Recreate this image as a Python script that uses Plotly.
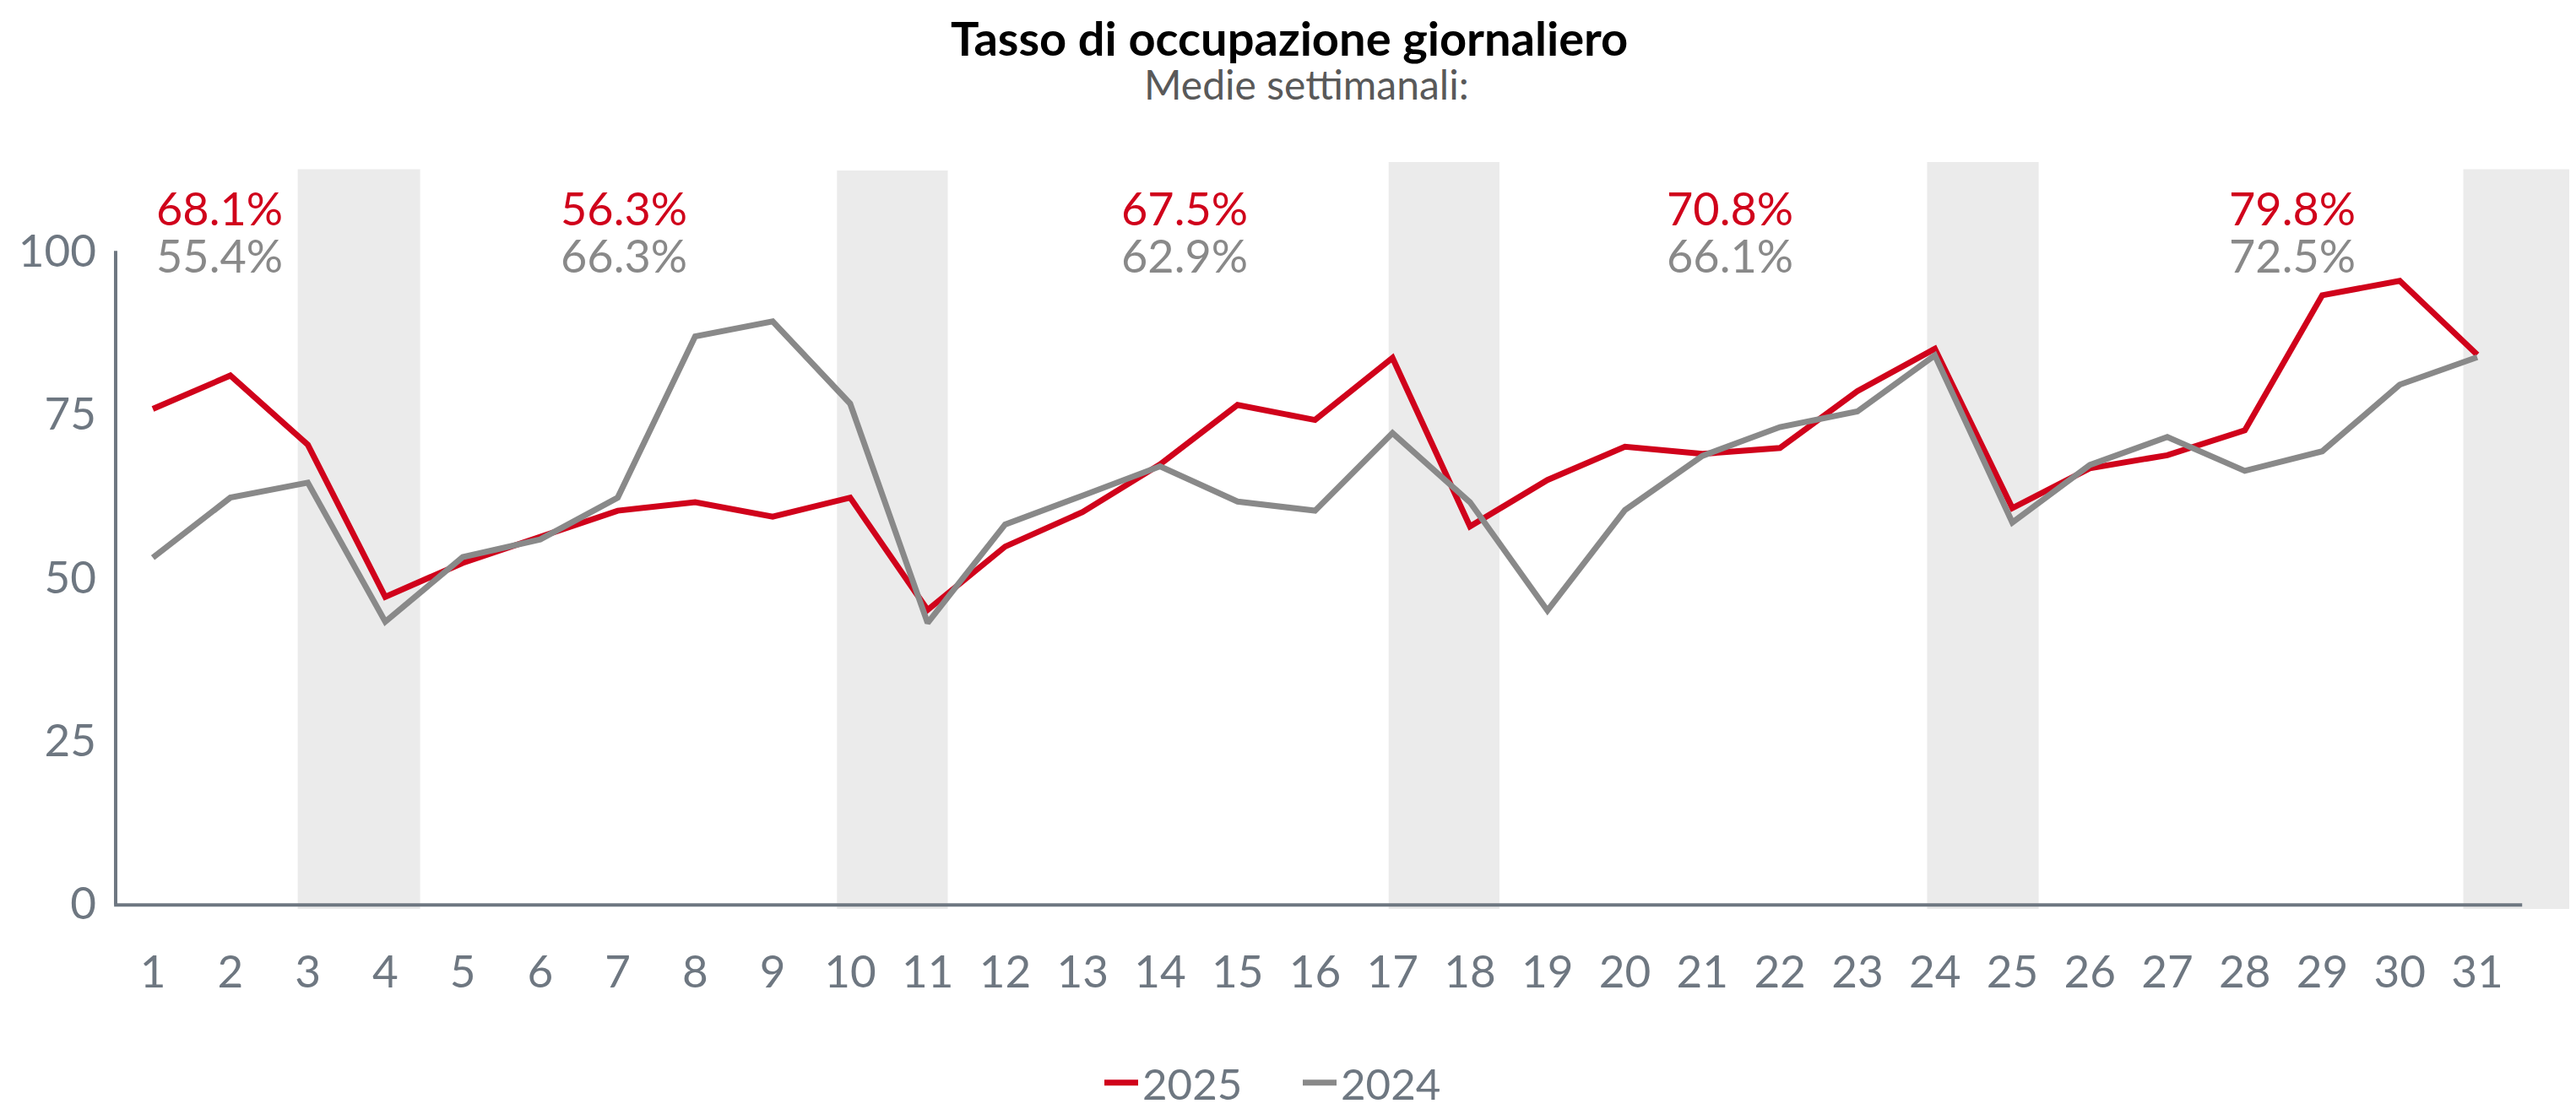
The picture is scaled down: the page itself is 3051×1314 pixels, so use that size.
import plotly.graph_objects as go

# ---- data ----
days = list(range(1, 32))
day_labels = [str(d) for d in days]
occ_2025 = [75.8, 80.9, 70.3, 47.0, 52.2, 56.1, 60.2, 61.5, 59.3, 62.2,
            45.0, 54.7, 60.0, 67.3, 76.4, 74.1, 83.6, 57.8, 64.9, 70.0,
            68.9, 69.8, 78.5, 85.0, 60.6, 66.7, 68.7, 72.5, 93.2, 95.4, 84.1]
occ_2024 = [53.0, 62.2, 64.5, 43.2, 53.1, 55.8, 62.2, 86.9, 89.2, 76.6,
            43.0, 58.1, 62.5, 67.0, 61.6, 60.2, 72.1, 61.5, 44.9, 60.3,
            68.6, 73.0, 75.4, 84.0, 58.4, 67.2, 71.5, 66.3, 69.3, 79.5, 83.7]
series_names = ["2025", "2024"]

# weekly averages (labels above each week)
week_center = [1.86, 7.08, 14.32, 21.36, 28.61]
week_avg_2025 = ["68.1%", "56.3%", "67.5%", "70.8%", "79.8%"]
week_avg_2024 = ["55.4%", "66.3%", "62.9%", "66.1%", "72.5%"]

# weekend shading bands (in day units)
weekend_start = [2.87, 9.83, 16.95, 23.90, 30.82]
weekend_end = [4.45, 11.26, 18.38, 25.34, 32.30]
weekend_top = [112.5, 112.3, 113.6, 113.6, 112.5]

y_ticks = [0, 25, 50, 75, 100]

# ---- style ----
RED = "#D0021B"
GREY = "#898989"
AXIS = "#6E7781"
BAND = "#EBEBEB"
FONT = "Lato"

# page body has an 8px default margin; figure is sized/placed to compensate
W, H = 3043, 1306
L, T, B = 112, 184, 237


def px_x(screen_x):
    return (screen_x - 8 - L) / (W - L)


def px_y(screen_y):
    return (H - B - (screen_y - 8)) / (H - B - T)


fig = go.Figure()
fig.add_trace(go.Scatter(x=days, y=occ_2025, mode="lines", name=series_names[0],
                         line=dict(color=RED, width=7)))
fig.add_trace(go.Scatter(x=days, y=occ_2024, mode="lines", name=series_names[1],
                         line=dict(color=GREY, width=7)))

shapes = []
for x0, x1, top in zip(weekend_start, weekend_end, weekend_top):
    shapes.append(dict(type="rect", xref="x", yref="y", x0=x0, x1=x1, y0=-0.8, y1=top,
                       fillcolor=BAND, line=dict(width=0), layer="below"))
# axis lines
shapes.append(dict(type="line", xref="x", yref="y", x0=0.52, x1=0.52, y0=-0.2, y1=100,
                   line=dict(color=AXIS, width=4), layer="below"))
shapes.append(dict(type="line", xref="x", yref="y", x0=0.50, x1=31.58, y0=-0.2, y1=-0.2,
                   line=dict(color=AXIS, width=4), layer="below"))

annotations = []
for xc, a25, a24 in zip(week_center, week_avg_2025, week_avg_2024):
    annotations.append(dict(x=xc, y=106.5, xref="x", yref="y", text=a25, showarrow=False,
                            font=dict(family=FONT, size=54, color=RED),
                            xanchor="center", yanchor="middle"))
    annotations.append(dict(x=xc, y=99.3, xref="x", yref="y", text=a24, showarrow=False,
                            font=dict(family=FONT, size=54, color=GREY),
                            xanchor="center", yanchor="middle"))

# title and subtitle
annotations.append(dict(x=px_x(1527), y=px_y(45), xref="paper", yref="paper",
                        text="<b>Tasso di occupazione giornaliero</b>", showarrow=False,
                        font=dict(family=FONT, size=56, color="#000000"),
                        xanchor="center", yanchor="middle"))
annotations.append(dict(x=px_x(1547), y=px_y(100), xref="paper", yref="paper",
                        text="Medie settimanali:", showarrow=False,
                        font=dict(family=FONT, size=48, color="#595959"),
                        xanchor="center", yanchor="middle"))

fig.update_layout(
    width=W, height=H,
    margin=dict(l=L, r=0, t=T, b=B, autoexpand=False),
    paper_bgcolor="white", plot_bgcolor="white",
    font=dict(family=FONT, color=AXIS, size=53),
    shapes=shapes, annotations=annotations,
    showlegend=True,
    legend=dict(orientation="h", x=px_x(1538), xanchor="center", y=px_y(1283), yanchor="middle",
                font=dict(family=FONT, size=51, color=AXIS),
                entrywidth=180, entrywidthmode="pixels", itemwidth=40,
                bgcolor="rgba(0,0,0,0)"),
    xaxis=dict(range=[0.335, 32.275], tickvals=days, ticktext=day_labels,
               showgrid=False, zeroline=False, showline=False, ticks="",
               tickfont=dict(family=FONT, size=53, color=AXIS), ticklabelstandoff=39),
    yaxis=dict(range=[-0.8, 113.6], tickvals=y_ticks, ticktext=[str(v) for v in y_ticks],
               showgrid=False, zeroline=False, showline=False, ticks="",
               tickfont=dict(family=FONT, size=53, color=AXIS), ticklabelstandoff=5),
)

fig.write_html("out.html")
